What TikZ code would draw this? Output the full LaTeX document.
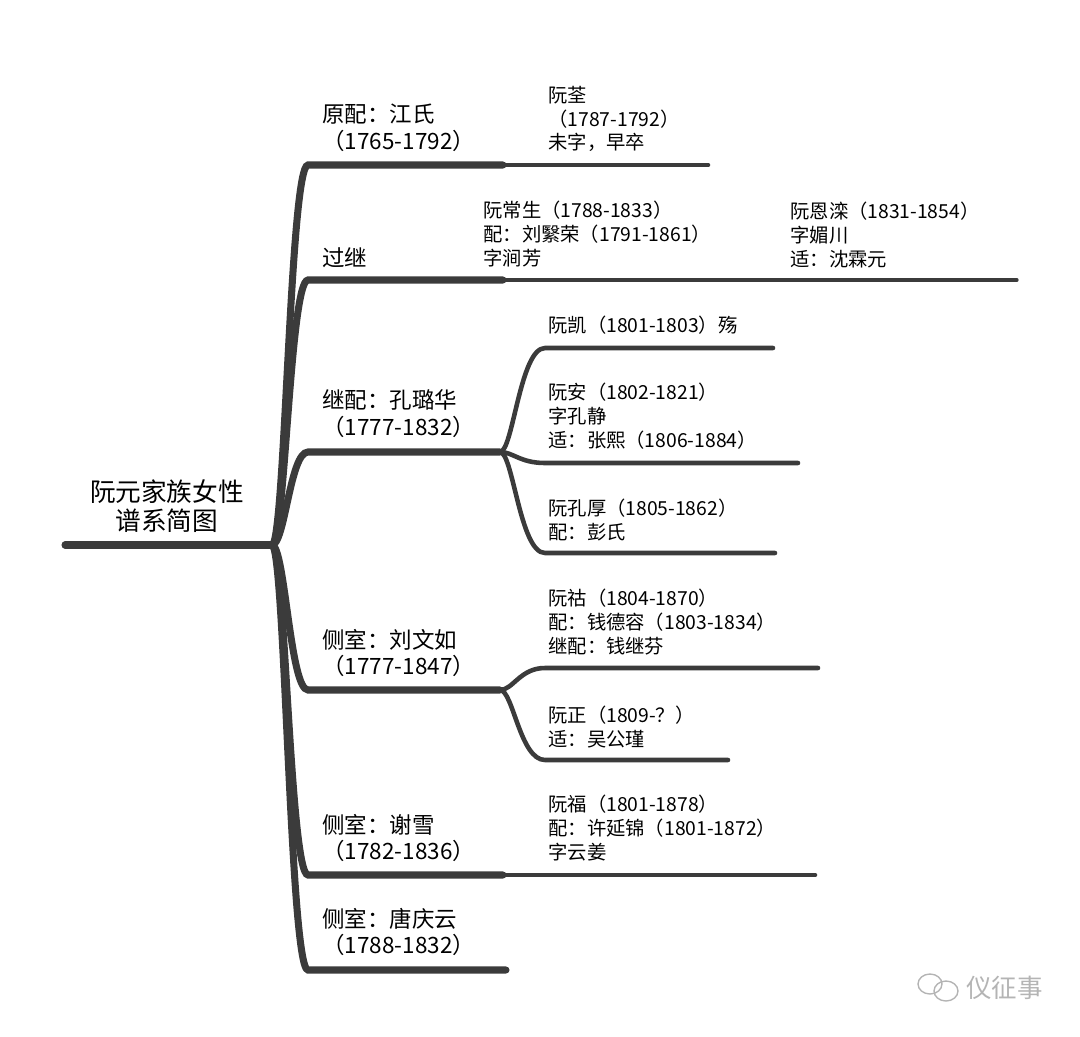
\documentclass[tikz,border=0pt]{standalone}
\usepackage{fontspec}
\setmainfont{Noto Sans CJK SC}
\usetikzlibrary{calc}
\definecolor{branchgray}{HTML}{3B3B3B}
\definecolor{markgray}{HTML}{B4B4B4}
\tikzset{
  lvlone/.style={draw=branchgray,line width=4pt,line cap=round},
  lvltwo/.style={draw=branchgray,line width=2.6pt,line cap=round},
  lvlthree/.style={draw=branchgray,line width=1.9pt,line cap=round},
  titletext/.style={font=\fontsize{14.6}{16.2}\selectfont,align=center,inner sep=0pt},
  wifetext/.style={font=\fontsize{12.8}{15.3}\selectfont,align=left,anchor=west,inner sep=0pt},
  kidtext/.style={font=\fontsize{11}{13.6}\selectfont,align=left,anchor=west,inner sep=0pt}
}
\begin{document}
\begin{tikzpicture}[x=0.02cm,y=-0.02cm]
        \useasboundingbox (0,0) rectangle (1080,1036);
        \node[titletext] (title) at (167,506) {阮元家族女性\\谱系简图};
        \node[wifetext] (w1) at (322,128) {原配：江氏\\（1765-1792）};
        \node[wifetext] (w2) at (322,258) {过继};
        \node[wifetext] (w3) at (322,414) {继配：孔璐华\\（1777-1832）};
        \node[wifetext] (w4) at (322,653) {侧室：刘文如\\（1777-1847）};
        \node[wifetext] (w5) at (322,838) {侧室：谢雪\\（1782-1836）};
        \node[wifetext] (w6) at (322,932) {侧室：唐庆云\\（1788-1832）};
        \node[kidtext] (k1) at (548,119) {阮荃\\（1787-1792）\\未字，早卒};
        \node[kidtext] (k2) at (483,234) {阮常生（1788-1833）\\配：刘繄荣（1791-1861）\\字涧芳};
        \node[kidtext] (g2) at (790,235) {阮恩滦（1831-1854）\\字媚川\\适：沈霖元};
        \node[kidtext] (k31) at (548,325) {阮凯（1801-1803）殇};
        \node[kidtext] (k32) at (548,416) {阮安（1802-1821）\\字孔静\\适：张熙（1806-1884）};
        \node[kidtext] (k33) at (548,520) {阮孔厚（1805-1862）\\配：彭氏};
        \node[kidtext] (k41) at (548,622) {阮祜（1804-1870）\\配：钱德容（1803-1834）\\继配：钱继芬};
        \node[kidtext] (k42) at (548,727) {阮正（1809-？）\\适：吴公瑾};
        \node[kidtext] (k5) at (548,828) {阮福（1801-1878）\\配：许延锦（1801-1872）\\字云姜};
        \node[font=\fontsize{14.5}{16}\selectfont,text=markgray,anchor=west,inner sep=0pt] (mark) at (966,988) {仪征事};
        \coordinate (r0) at (65,545);
        \coordinate (hub) at (272,545);
        \coordinate (b1) at (308,165);  \coordinate (b1e) at (503,165);
        \coordinate (b2) at (308,280);  \coordinate (b2e) at (503,280);
        \coordinate (b3) at (308,452);  \coordinate (b3e) at (500,452);
        \coordinate (b4) at (308,690);  \coordinate (b4e) at (500,690);
        \coordinate (b5) at (308,875);  \coordinate (b5e) at (503,875);
        \coordinate (b6) at (308,970);  \coordinate (b6e) at (506,970);
        \coordinate (c1e) at (708,165);
        \coordinate (c2e) at (747,280);
        \coordinate (d2e) at (1017,280);
        \coordinate (c31) at (545,348);  \coordinate (c31e) at (773,348);
        \coordinate (c32) at (545,463);  \coordinate (c32e) at (798,463);
        \coordinate (c33) at (545,553);  \coordinate (c33e) at (775,553);
        \coordinate (c41) at (545,668);  \coordinate (c41e) at (818,668);
        \coordinate (c42) at (545,760);  \coordinate (c42e) at (728,760);
        \coordinate (c5e) at (815,875);
        \draw[lvlone] (r0)--(hub);
        \foreach \b in {b1,b2,b3,b4,b5,b6}
          \draw[lvlone] (hub) .. controls ($(hub)+(13,0)$ |- \b) and ($(\b)+(-18,0)$) .. (\b) -- (\b e);
        \draw[lvltwo] (b1e)--(c1e) (b2e)--(c2e) (b5e)--(c5e);
        \draw[lvlthree] (c2e)--(d2e);
        \foreach \c in {c31,c32,c33}
          \draw[lvltwo] (b3e) .. controls ($(b3e)+(13,0)$ |- \c) and ($(\c)+(-25,0)$) .. (\c) -- (\c e);
        \foreach \c in {c41,c42}
          \draw[lvltwo] (b4e) .. controls ($(b4e)+(13,0)$ |- \c) and ($(\c)+(-25,0)$) .. (\c) -- (\c e);
        \draw[markgray,line width=0.8pt] (930,984) ellipse (12 and 10) (946,991) ellipse (12 and 10);
    \end{tikzpicture}
\end{document}
